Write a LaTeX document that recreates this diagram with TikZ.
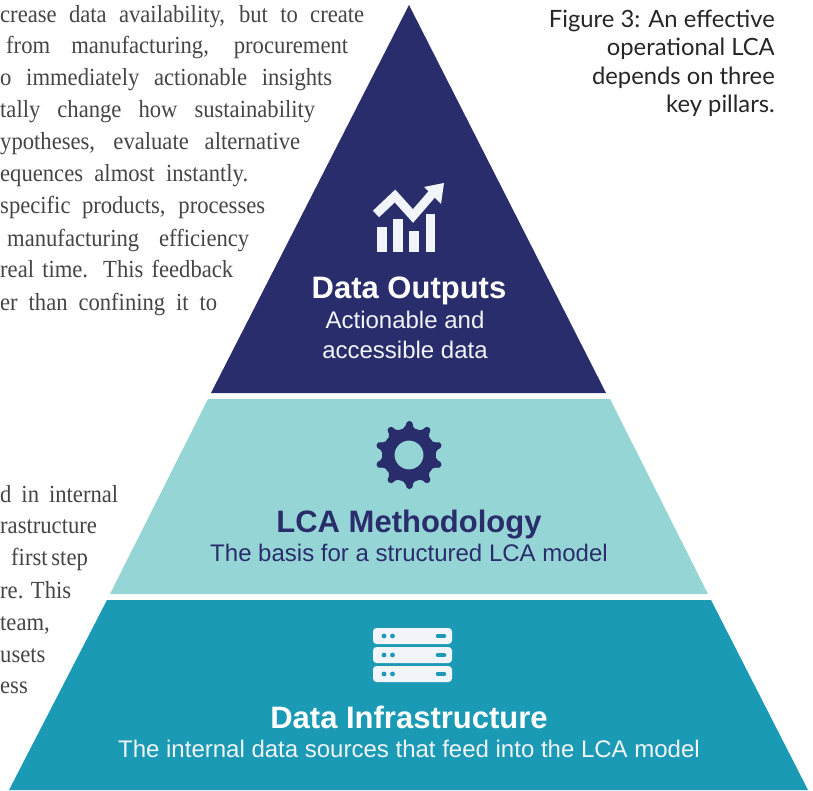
\documentclass[tikz,border=0pt]{standalone}
\usepackage{fontspec}
\setmainfont[FakeStretch=0.92]{Liberation Serif}
\setsansfont{Liberation Sans}
\newfontfamily\capfont{Lato}
\usepackage{tikz}
\usetikzlibrary{calc}
\definecolor{navy}{HTML}{2A2D6B}
\definecolor{paleteal}{HTML}{96D5D5}
\definecolor{deepteal}{HTML}{1B9AB5}
\definecolor{iconwhite}{HTML}{F1F4F8}
\definecolor{bodygrey}{HTML}{454545}
\begin{document}
\begin{tikzpicture}[x=1pt,y=-1pt,
                    Body/.style={anchor=base west, inner sep=0pt, text=bodygrey, font=\fontsize{24.6}{26}\selectfont},
                    Title/.style={inner sep=0pt, font=\sffamily\bfseries\fontsize{31}{34}\selectfont},
                    Sub/.style={inner sep=0pt, font=\sffamily\fontsize{24}{29.5}\selectfont, align=center}
                    ]
    \useasboundingbox (0,0) rectangle (813,791);

    % TIERS %
    \fill[navy] (409,5) -- (606,393) -- (211,393) -- cycle;
    \fill[paleteal] (208,399) -- (610,399) -- (708,594) -- (110,594) -- cycle;
    \fill[deepteal] (107,600) -- (711,600) -- (808,790) -- (9,790) -- cycle;

    % LABELS %
    \node[Title, text=white] at (409,291) (outTitle){Data Outputs};
    \node[Sub, text=iconwhite] at (405,335) (outSub){Actionable and\\accessible data};
    \node[Title, text=navy] at (409,525) (lcaTitle){LCA Methodology};
    \node[Sub, text=navy] at (409,553) (lcaSub){The basis for a structured LCA model};
    \node[Title, text=white] at (409,717) (infTitle){Data Infrastructure};
    \node[Sub, text=iconwhite] at (409,749) (infSub){The internal data sources that feed into the LCA model};

    % CHART ICON %
    \foreach \x/\y/\w in {377/227/10,393/219/10,409/231/10,426/214/9}{
    \fill[iconwhite] (\x,\y) rectangle ($(\x,252) + (\w,0)$);
    }
    \draw[iconwhite, line width=9pt] (376,214) -- (395,196) -- (413,216) -- (432,194);
    \fill[iconwhite] (444,183) -- (441,204) -- (424,187) -- cycle;

    % GEAR ICON %
    \foreach \a in {0,36,...,324}{
    \draw[navy, line width=7pt, line cap=round] (409,455) ++(90+\a:24) -- ++(90+\a:6.5);
    \fill[navy] (409,455) ++(90+\a-15:26) -- ($(409,455) + (90+\a-6:30)$) -- ($(409,455) + (90+\a+6:30)$) -- ($(409,455) + (90+\a+15:26)$) -- cycle;
    }
    \fill[navy, even odd rule] (409,455) circle[radius=27] (409,455) circle[radius=14.5];

    % SERVER ICON %
    \foreach \y in {628,647,666}{
    \fill[iconwhite, rounded corners=3.5pt] (373,\y) rectangle (452,\y+16);
    \fill[deepteal] (384,\y+8) circle[radius=2.4] (392.5,\y+8) circle[radius=2.4];
    \draw[deepteal, line width=3.5pt, line cap=round] (437.5,\y+8) -- (444.5,\y+8);
    }

    % UPPER COLUMN %
    \foreach \n/\x/\y/\w/\t in {
        0/0/23/364/{crease data availability, but to create},
        1/6/54/342/{from manufacturing, procurement},
        2/0/86/332/{o immediately actionable insights},
        3/0/118/315/{tally change how sustainability},
        4/0/150/300/{ypotheses, evaluate alternative},
        5/0/182/248/{equences almost instantly.},
        6/0/214/265/{specific products, processes},
        7/7/247/242/{manufacturing efficiency},
        8/0/278/233/{real time. This feedback},
        9/0/310/217/{er than confining it to}}{
    \node[Body] at (\x,\y) (up\n){\makebox[\w pt][s]{\t}};
    }

    % LOWER COLUMN %
    \foreach \n/\x/\y/\w/\t in {
        0/0/502/118/{d in internal},
        1/0/533/102/{rastructure},
        2/11/565/75/{first step},
        3/0/598/71/{re. This},
        4/0/630/54/{team,},
        5/0/662/38/{usets},
        6/0/693/23/{ess}}{
    \node[Body] at (\x,\y) (low\n){\makebox[\w pt][s]{\t}};
    }

    % CAPTION %
    \node[anchor=north east, inner sep=0pt, align=right, text=black!85, font=\capfont\fontsize{23.8}{28.2}\selectfont] at (775,10) (caption){Figure 3: An effective\\operational LCA\\depends on three\\key pillars.};
\end{tikzpicture}
\end{document}
